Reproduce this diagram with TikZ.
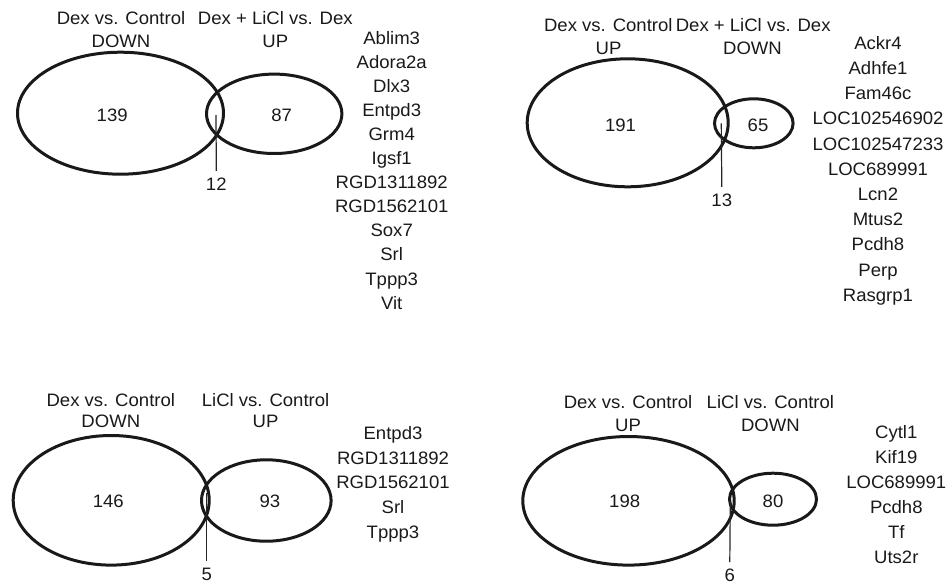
\documentclass[tikz,border=0pt]{standalone}
\usepackage{fontspec}
\setmainfont{Liberation Sans}[FakeStretch=1.03]
\usetikzlibrary{shapes.geometric}
\tikzset{
  venn/.style={draw=black!90, line width=3pt, ellipse, inner sep=0pt, outer sep=0pt},
  lbl/.style={anchor=base, inner sep=0pt, font=\fontsize{18}{22}\selectfont, text=black!90},
  cnt/.style={anchor=base, inner sep=7pt, font=\fontsize{18}{22}\selectfont, text=black!90},
  lead/.style={draw=black!85, line width=1.2pt},
}
\begin{document}
\begin{tikzpicture}[x=1pt,y=-1pt]
\useasboundingbox (0,0) rectangle (946,584);
% ---------- panel 1 (top left) ----------
\node[venn, minimum width=206pt, minimum height=122pt] (A1) at (120.5,113.2) {};
\node[venn, minimum width=135.4pt, minimum height=79.4pt] (B1) at (274.2,113.8) {};
\node[lbl] (t1a) at (121,24.5) {Dex vs. Control};
\node[lbl] (t1b) at (121,47) {DOWN};
\node[lbl] (t1c) at (275.3,24.5) {Dex + LiCl vs. Dex};
\node[lbl] (t1d) at (275.3,47) {UP};
\node[lbl] (n1a) at (112.2,121.7) {139};
\node[lbl] (n1b) at (281.7,121.7) {87};
\node[cnt] (n1c) at (216.3,190.7) {12};
\coordinate (i1) at (216,115);
\draw[lead] (i1) -- (n1c.north);
\foreach \g [count=\i] in {Ablim3,Adora2a,Dlx3,Entpd3,Grm4,Igsf1,RGD1311892,RGD1562101,Sox7,Srl,Tppp3,Vit}
  \node[lbl] (g1-\i) at (391.7,{44+(\i-1)*24.1}) {\g};
% ---------- panel 2 (top right) ----------
\node[venn, minimum width=201pt, minimum height=128pt] (A2) at (627.7,122.8) {};
\node[venn, minimum width=78.6pt, minimum height=49pt] (B2) at (753.8,123.3) {};
\node[lbl] (t2a) at (608.3,31.7) {Dex vs. Control};
\node[lbl] (t2b) at (608.5,54.3) {UP};
\node[lbl] (t2c) at (753.2,31.7) {Dex + LiCl vs. Dex};
\node[lbl] (t2d) at (752.5,54.3) {DOWN};
\node[lbl] (n2a) at (620.5,131.7) {191};
\node[lbl] (n2b) at (758,131.7) {65};
\node[cnt] (n2c) at (721.8,206.7) {13};
\coordinate (i2) at (721.3,123.3);
\draw[lead] (i2) -- (n2c.north);
\foreach \g [count=\i] in {Ackr4,Adhfe1,Fam46c,LOC102546902,LOC102547233,LOC689991,Lcn2,Mtus2,Pcdh8,Perp,Rasgrp1}
  \node[lbl] (g2-\i) at (878,{49.3+(\i-1)*25.2}) {\g};
% ---------- panel 3 (bottom left) ----------
\node[venn, minimum width=196pt, minimum height=129.6pt] (A3) at (111.2,500.3) {};
\node[venn, minimum width=129.6pt, minimum height=81.4pt] (B3) at (266.3,500.5) {};
\node[lbl] (t3a) at (110.8,406) {Dex vs. Control};
\node[lbl] (t3b) at (110.8,427.3) {DOWN};
\node[lbl] (t3c) at (265.6,406) {LiCl vs. Control};
\node[lbl] (t3d) at (265.6,427.3) {UP};
\node[lbl] (n3a) at (108.3,507.3) {146};
\node[lbl] (n3b) at (270,507.3) {93};
\node[cnt] (n3c) at (206.7,580.7) {5};
\coordinate (i3) at (206.7,493);
\draw[lead] (i3) -- (n3c.north);
\foreach \g [count=\i] in {Entpd3,RGD1311892,RGD1562101,Srl,Tppp3}
  \node[lbl] (g3-\i) at (393,{439.3+(\i-1)*24.75}) {\g};
% ---------- panel 4 (bottom right) ----------
\node[venn, minimum width=211.4pt, minimum height=128.6pt] (A4) at (628.5,500.8) {};
\node[venn, minimum width=87pt, minimum height=52pt] (B4) at (773,499.2) {};
\node[lbl] (t4a) at (628,408.3) {Dex vs. Control};
\node[lbl] (t4b) at (628,431.7) {UP};
\node[lbl] (t4c) at (770.4,408.3) {LiCl vs. Control};
\node[lbl] (t4d) at (770.4,431.7) {DOWN};
\node[lbl] (n4a) at (624.7,507.3) {198};
\node[lbl] (n4b) at (773,507.3) {80};
\node[cnt] (n4c) at (729.8,581.8) {6};
\coordinate (i4) at (730.3,501.7);
\draw[lead] (i4) -- (n4c.north);
\foreach \g [count=\i] in {Cytl1,Kif19,LOC689991,Pcdh8,Tf,Uts2r}
  \node[lbl] (g4-\i) at (896.3,{438.3+(\i-1)*25}) {\g};
\end{tikzpicture}
\end{document}
